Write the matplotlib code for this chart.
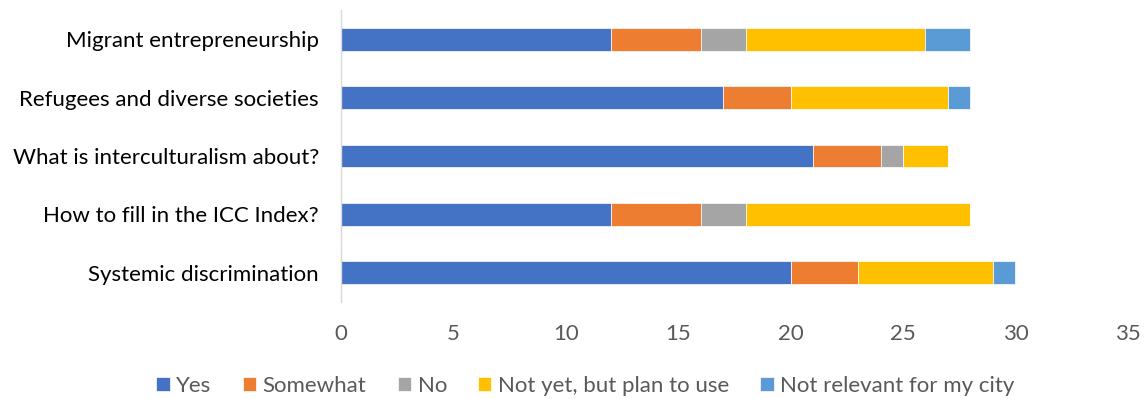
import matplotlib
matplotlib.use("Agg")
import matplotlib.pyplot as plt
import numpy as np

plt.rcParams['font.family'] = ['Lato', 'DejaVu Sans']

categories = ["Systemic discrimination", "How to fill in the ICC Index?",
              "What is interculturalism about?", "Refugees and diverse societies",
              "Migrant entrepreneurship"]
series_names = ["Yes", "Somewhat", "No", "Not yet, but plan to use", "Not relevant for my city"]
yes = [20, 12, 21, 17, 12]
somewhat = [3, 4, 3, 3, 4]
no = [0, 2, 1, 0, 2]
not_yet = [6, 10, 2, 7, 8]
not_relevant = [1, 0, 0, 1, 2]
colors = ["#4472C4", "#ED7D31", "#A5A5A5", "#FFC000", "#5B9BD5"]
xticks = [0, 5, 10, 15, 20, 25, 30, 35]

fig = plt.figure(figsize=(11.45, 3.99), dpi=100)
ax = fig.add_axes([0.2978, 0.243, 0.6872, 0.732])

y = np.arange(len(categories))
left = np.zeros(len(categories))
for vals, name, c in zip([yes, somewhat, no, not_yet, not_relevant], series_names, colors):
    v = np.array(vals, dtype=float)
    ax.barh(y, v, left=left, height=0.39, color=c, label=name,
            edgecolor="white", linewidth=0.5)
    left += v

ax.set_xlim(0, 35)
ax.set_ylim(-0.5, len(categories) - 0.5)
ax.set_xticks(xticks)
ax.set_yticks(y)
ax.set_yticklabels(categories, fontsize=16, color="#000000")
ax.tick_params(axis='x', labelsize=16, labelcolor="#595959", length=0, pad=16)
ax.tick_params(axis='y', length=0, pad=16)
for s in ["top", "right", "bottom"]:
    ax.spines[s].set_visible(False)
ax.spines["left"].set_color("#D9D9D9")
ax.spines["left"].set_linewidth(1)

handles, labels = ax.get_legend_handles_labels()
fig.legend(handles, labels, loc="center", bbox_to_anchor=(0.5114, 0.033), ncol=5,
           frameon=False, fontsize=16, labelcolor="#595959",
           handlelength=0.6, handleheight=0.6, handletextpad=0.3, columnspacing=1.4,
           borderpad=0.1)

fig.savefig("out.png", dpi=100)
